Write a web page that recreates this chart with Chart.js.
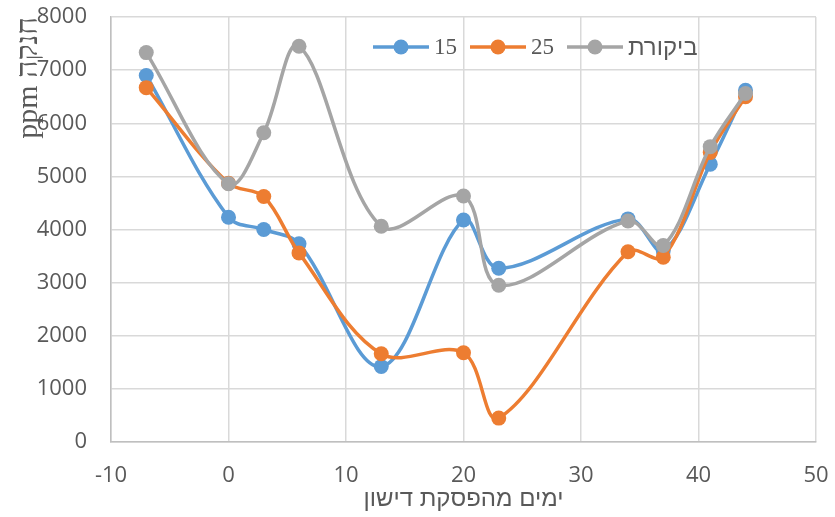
<!DOCTYPE html>
<html lang="he">
    <head>
        <meta charset="UTF-8">
        <title>חנקה</title>
        <script src="https://cdn.jsdelivr.net/npm/chart.js@4.4.0/dist/chart.umd.min.js"></script>
        <style>
            body { margin: 0; background: #fff; }
            #wrap { position: relative; width: 835px; height: 517px; }
            #legend { position: absolute; left: 373px; top: 33px; display: flex; align-items: center;
                      font: 23px "Liberation Serif", serif; color: #595959; direction: ltr; }
            #legend .item { display: flex; align-items: center; margin-right: 13px; }
            #legend .heb { font: 24px "Liberation Sans", sans-serif; }
            #legend svg { margin-right: 5px; }
        </style>
    </head>
    <body>
        <div id="wrap">
            <canvas id="nitrateChart" width="835" height="517"></canvas>
            <div id="legend"></div>
        </div>
        <script>
            // days since fertilizing stopped
            var days = [-7, 0, 3, 6, 13, 20, 23, 34, 37, 41, 44];
            var seriesNames = ['15', '25', 'ביקורת'];
            var colors = ['#5B9BD5', '#ED7D31', '#A5A5A5'];
            var s15 = [6900, 4230, 4000, 3730, 1420, 4180, 3270, 4200, 3600, 5230, 6620];
            var s25 = [6670, 4870, 4620, 3560, 1660, 1680, 450, 3580, 3480, 5450, 6500];
            var control = [7330, 4860, 5820, 7450, 4060, 4630, 2950, 4160, 3700, 5560, 6560];
            var xTicks = [-10, 0, 10, 20, 30, 40, 50];
            var yTicks = [0, 1000, 2000, 3000, 4000, 5000, 6000, 7000, 8000];

            var seriesValues = [s15, s25, control];
            var datasets = seriesValues.map(function (vals, i) {
                return {
                    label: seriesNames[i],
                    data: vals.map(function (v, j) { return { x: days[j], y: v }; }),
                    borderColor: colors[i],
                    backgroundColor: colors[i],
                    borderWidth: 3.5,
                    pointRadius: 7.5,
                    pointBorderWidth: 0,
                    tension: 0.35,
                    order: 2 - i   // gray on top
                };
            });

            var ctx = document.getElementById('nitrateChart').getContext('2d');
            var nitrateChart = new Chart(ctx, {
                type: 'line',
                data: { datasets: datasets },
                options: {
                    responsive: false,
                    animation: false,
                    layout: { padding: { top: 17, right: 19, left: 0, bottom: 0 } },
                    plugins: { legend: { display: false }, tooltip: { enabled: false } },
                    scales: {
                        x: {
                            type: 'linear',
                            min: xTicks[0],
                            max: xTicks[xTicks.length - 1],
                            afterBuildTicks: function (s) { s.ticks = xTicks.map(function (v) { return { value: v }; }); },
                            afterFit: function (s) { s.height = 75; s.paddingLeft = 0; s.paddingRight = 0; },
                            grid: { color: '#D9D9D9', lineWidth: 1.5, drawTicks: false },
                            border: { color: '#BFBFBF', width: 1.5 },
                            ticks: {
                                color: '#595959', padding: 21,
                                font: { family: '"Open Sans", sans-serif', size: 22 },
                                callback: function (v) { return String(v); }
                            },
                            title: {
                                display: true,
                                text: 'ימים מהפסקת דישון',
                                color: '#595959',
                                padding: { top: 0, bottom: 3 },
                                font: { family: '"Liberation Sans", sans-serif', size: 24 }
                            }
                        },
                        y: {
                            min: 0,
                            max: 8000,
                            afterBuildTicks: function (s) { s.ticks = yTicks.map(function (v) { return { value: v }; }); },
                            afterFit: function (s) { s.width = 111; s.paddingTop = 0; s.paddingBottom = 0; },
                            grid: { color: '#D9D9D9', lineWidth: 1.5, drawTicks: false },
                            border: { color: '#BFBFBF', width: 1.5 },
                            ticks: {
                                color: '#595959', padding: 24,
                                font: { family: '"Open Sans", sans-serif', size: 22 },
                                callback: function (v) { return String(v); }
                            },
                            title: {
                                display: true,
                                text: 'ppm חנקה',
                                color: '#595959',
                                align: 'end',
                                padding: { top: 11, bottom: 0 },
                                font: { family: '"Liberation Serif", serif', size: 30 }
                            }
                        }
                    }
                }
            });

            // legend drawn over the plot area, like the original
            var legend = document.getElementById('legend');
            seriesNames.forEach(function (name, i) {
                var item = document.createElement('span');
                item.className = 'item';
                item.innerHTML = '<svg width="56" height="16"><line x1="0" y1="8" x2="56" y2="8" stroke="' + colors[i] +
                    '" stroke-width="3.5"/><circle cx="28" cy="8" r="7.5" fill="' + colors[i] + '"/></svg>';
                var label = document.createElement('span');
                label.textContent = name;
                if (/[\u0590-\u05FF]/.test(name)) label.className = 'heb';
                item.appendChild(label);
                legend.appendChild(item);
            });
        </script>
    </body>
</html>
